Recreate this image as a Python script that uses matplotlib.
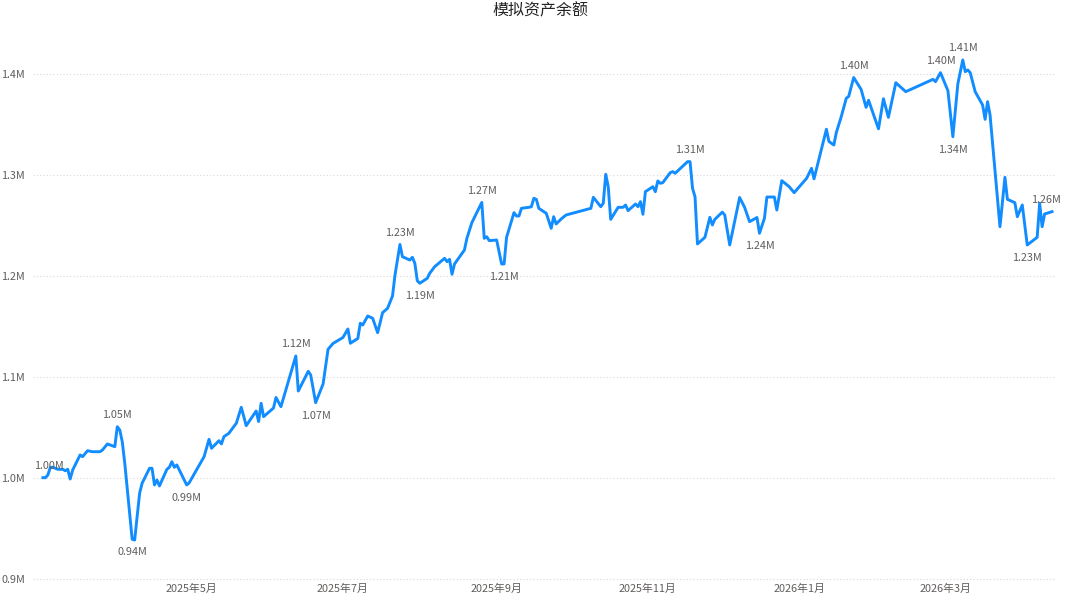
import matplotlib
matplotlib.use('Agg')
import matplotlib.pyplot as plt
from matplotlib.ticker import FuncFormatter
import pandas as pd

plt.rcParams['font.family'] = ['Noto Sans CJK SC', 'DejaVu Sans']

# simulated balance
dates = [
    '2025-03-02', '2025-03-03', '2025-03-04', '2025-03-05', '2025-03-06', '2025-03-08', '2025-03-10',
    '2025-03-11', '2025-03-12', '2025-03-13', '2025-03-14', '2025-03-17', '2025-03-18', '2025-03-20',
    '2025-03-22', '2025-03-25', '2025-03-26', '2025-03-28', '2025-03-31', '2025-04-01', '2025-04-02',
    '2025-04-03', '2025-04-04', '2025-04-07', '2025-04-08', '2025-04-10', '2025-04-11', '2025-04-14',
    '2025-04-15', '2025-04-16', '2025-04-17', '2025-04-18', '2025-04-21', '2025-04-22', '2025-04-23',
    '2025-04-24', '2025-04-25', '2025-04-29', '2025-04-30', '2025-05-06', '2025-05-08', '2025-05-09',
    '2025-05-12', '2025-05-13', '2025-05-14', '2025-05-16', '2025-05-19', '2025-05-21', '2025-05-23',
    '2025-05-27', '2025-05-28', '2025-05-29', '2025-05-30', '2025-06-03', '2025-06-04', '2025-06-06',
    '2025-06-12', '2025-06-13', '2025-06-17', '2025-06-18', '2025-06-20', '2025-06-23', '2025-06-25',
    '2025-06-27', '2025-07-01', '2025-07-03', '2025-07-04', '2025-07-07', '2025-07-08', '2025-07-09',
    '2025-07-11', '2025-07-13', '2025-07-15', '2025-07-17', '2025-07-19', '2025-07-21', '2025-07-22',
    '2025-07-24', '2025-07-25', '2025-07-28', '2025-07-29', '2025-07-30', '2025-07-31', '2025-08-01',
    '2025-08-04', '2025-08-05', '2025-08-07', '2025-08-11', '2025-08-12', '2025-08-13', '2025-08-14',
    '2025-08-15', '2025-08-19', '2025-08-20', '2025-08-22', '2025-08-26', '2025-08-27', '2025-08-28',
    '2025-08-29', '2025-09-01', '2025-09-03', '2025-09-04', '2025-09-05', '2025-09-08', '2025-09-09',
    '2025-09-10', '2025-09-11', '2025-09-14', '2025-09-15', '2025-09-16', '2025-09-17', '2025-09-18',
    '2025-09-21', '2025-09-23', '2025-09-24', '2025-09-25', '2025-09-27', '2025-09-29', '2025-10-09',
    '2025-10-10', '2025-10-13', '2025-10-14', '2025-10-15', '2025-10-16', '2025-10-17', '2025-10-20',
    '2025-10-22', '2025-10-23', '2025-10-24', '2025-10-27', '2025-10-28', '2025-10-29', '2025-10-30',
    '2025-10-31', '2025-11-03', '2025-11-04', '2025-11-05', '2025-11-06', '2025-11-07', '2025-11-10',
    '2025-11-11', '2025-11-12', '2025-11-17', '2025-11-18', '2025-11-19', '2025-11-20', '2025-11-21',
    '2025-11-24', '2025-11-26', '2025-11-27', '2025-11-28', '2025-12-01', '2025-12-02', '2025-12-04',
    '2025-12-08', '2025-12-10', '2025-12-12', '2025-12-15', '2025-12-16', '2025-12-18', '2025-12-19',
    '2025-12-22', '2025-12-23', '2025-12-25', '2025-12-28', '2025-12-30', '2026-01-04', '2026-01-06',
    '2026-01-07', '2026-01-12', '2026-01-13', '2026-01-15', '2026-01-16', '2026-01-18', '2026-01-20',
    '2026-01-21', '2026-01-23', '2026-01-26', '2026-01-28', '2026-01-29', '2026-02-02', '2026-02-04',
    '2026-02-06', '2026-02-09', '2026-02-10', '2026-02-13', '2026-02-24', '2026-02-25', '2026-02-27',
    '2026-03-02', '2026-03-04', '2026-03-06', '2026-03-08', '2026-03-09', '2026-03-10', '2026-03-11',
    '2026-03-13', '2026-03-16', '2026-03-17', '2026-03-18', '2026-03-19', '2026-03-23', '2026-03-25',
    '2026-03-26', '2026-03-29', '2026-03-30', '2026-04-01', '2026-04-03', '2026-04-07', '2026-04-08',
    '2026-04-09', '2026-04-10', '2026-04-13',
]
balance = [
    1000300, 1000300, 1003000, 1010600, 1010600, 1008600, 1008600,
    1007200, 1008600, 999000, 1007900, 1022800, 1021100, 1027000,
    1026000, 1026000, 1027700, 1033700, 1031000, 1050800, 1047500,
    1035900, 1014900, 939300, 938600, 984900, 994800, 1009600,
    1009600, 993100, 998000, 992100, 1008600, 1010600, 1016100,
    1010600, 1012900, 993100, 995300, 1021100, 1038300, 1029400,
    1036900, 1033700, 1040900, 1044300, 1054200, 1070000, 1051800,
    1066300, 1055900, 1074000, 1060700, 1069300, 1079700, 1070600,
    1120800, 1086100, 1105600, 1102000, 1074600, 1093100, 1127400,
    1133200, 1139100, 1147500, 1133400, 1138100, 1153200, 1151500,
    1160400, 1158100, 1143900, 1163700, 1168000, 1180200, 1201000,
    1231200, 1219100, 1215800, 1218500, 1212600, 1195300, 1192800,
    1197700, 1202700, 1209200, 1217500, 1214200, 1216500, 1201700,
    1211900, 1225700, 1237300, 1252800, 1272800, 1237300, 1238900,
    1235000, 1235600, 1211900, 1211900, 1238300, 1262700, 1259400,
    1259400, 1267000, 1268000, 1268600, 1276900, 1275900, 1267000,
    1262100, 1247200, 1258700, 1251500, 1256400, 1260400, 1267000,
    1277900, 1268600, 1272000, 1300700, 1288400, 1256100, 1268000,
    1268000, 1270300, 1264700, 1271300, 1268600, 1273600, 1261100,
    1283500, 1288400, 1283500, 1294100, 1291800, 1292400, 1302300,
    1303300, 1301700, 1313200, 1313200, 1286800, 1278500, 1231700,
    1238300, 1258100, 1250500, 1256100, 1263200, 1260400, 1230700,
    1277700, 1268000, 1253800, 1257900, 1242300, 1257100, 1278200,
    1278200, 1265300, 1294400, 1288400, 1282500, 1296700, 1306600,
    1296200, 1345300, 1333200, 1329700, 1342100, 1357900, 1375900,
    1377900, 1396500, 1384700, 1367000, 1374000, 1345700, 1375500,
    1357100, 1391400, 1389100, 1382500, 1394700, 1392400, 1401300,
    1383500, 1337900, 1390100, 1413900, 1402300, 1404000, 1401300,
    1382500, 1369300, 1355100, 1372600, 1359400, 1248800, 1297700,
    1275900, 1272600, 1258700, 1270300, 1230700, 1238300, 1272000,
    1248800, 1261400, 1263700,
]

# which points get a value label, and on which side of the line
label_dates = ['2025-03-02', '2025-04-01', '2025-04-07', '2025-04-29', '2025-06-12', '2025-06-20',
               '2025-07-24', '2025-08-01', '2025-08-26', '2025-09-04', '2025-11-18', '2025-12-16',
               '2026-01-23', '2026-02-27', '2026-03-04', '2026-03-08', '2026-04-03', '2026-04-13']
label_side = ['up', 'up', 'down', 'down', 'up', 'down',
              'up', 'down', 'up', 'down', 'up', 'down',
              'up', 'up', 'down', 'up', 'down', 'up']

month_ticks = ['2025-05-01', '2025-07-01', '2025-09-01', '2025-11-01', '2026-01-01', '2026-03-01']

df = pd.DataFrame({'date': pd.to_datetime(dates), 'balance': balance})

fig = plt.figure(figsize=(10.8, 6.04), dpi=100)
# a little room under 0.9M so its gridline is not clipped
ax = fig.add_axes([33 / 1080, 1 - 581 / 604, 1024 / 1080, (581 - 23.5) / 604])

ax.plot(df['date'], df['balance'], color='#118DFF', lw=2.1, solid_joinstyle='round')

ax.set_ylim(898000, 1450000)
ax.set_xlim(pd.Timestamp('2025-02-26'), pd.Timestamp('2026-04-15'))
ax.set_yticks([900000, 1000000, 1100000, 1200000, 1300000, 1400000])
ax.yaxis.set_major_formatter(FuncFormatter(lambda v, p: f'{v / 1e6:.1f}M'))
ticks = pd.to_datetime(month_ticks)
ax.set_xticks(ticks)
ax.set_xticklabels([f'{t.year}年{t.month}月' for t in ticks])

ax.grid(axis='y', color='#d8d8d8', linestyle=(0, (1, 2)), lw=0.8)
ax.set_axisbelow(True)
for s in ax.spines.values():
    s.set_visible(False)
ax.tick_params(length=0, labelsize=7.8, colors='#605E5C')
ax.tick_params(axis='y', pad=5.8)
ax.tick_params(axis='x', pad=2.2)

for d, side in zip(label_dates, label_side):
    t = pd.Timestamp(d)
    v = df.loc[df['date'] == t, 'balance'].iloc[0]
    dy = 8.3 if side == 'up' else -9.4
    dx = 0
    if d == dates[0]:
        dx = 4.3
    elif d == dates[-1]:
        dx = -4.3
    ax.annotate(f'{v / 1e6:.2f}M', (t, v), xytext=(dx, dy), textcoords='offset points',
                ha='center', va='center', fontsize=7.8, color='#605E5C')

fig.text(0.5, 1 - 10.5 / 604, '模拟资产余额', ha='center', va='center', fontsize=11.5, color='#252423')

fig.savefig('out.png', dpi=100)
